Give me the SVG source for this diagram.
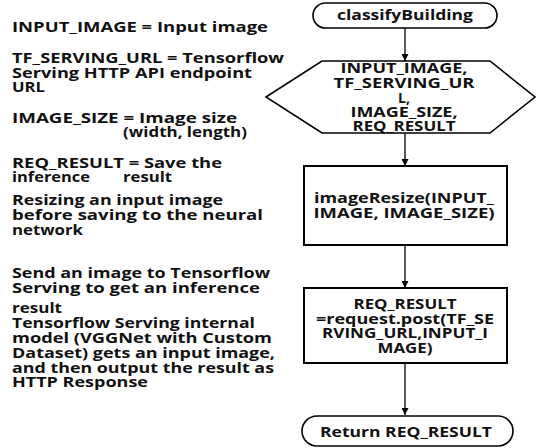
<svg xmlns="http://www.w3.org/2000/svg" width="536" height="448" viewBox="0 0 536 448">
<defs>
<style>
text{font-family:"Open Sans","Noto Sans","Liberation Sans",sans-serif;font-weight:bold;font-size:14px;fill:#111}
.c{text-anchor:middle}
.shape{fill:#fff;stroke:#000;stroke-width:1.6}
.box{fill:#fff;stroke:#000;stroke-width:2}
.edge{stroke:#000;stroke-width:1.3;fill:none;marker-end:url(#ah)}
</style>
<marker id="ah" viewBox="0 0 10 10" refX="10" refY="5" markerWidth="7" markerHeight="7" markerUnits="userSpaceOnUse" orient="auto">
<path d="M0,0 L10,5 L0,10 z" fill="#000"/>
</marker>
</defs>
<rect width="536" height="448" fill="#fff"/>

<g id="notes">
<text x="12" y="32" textLength="256" lengthAdjust="spacingAndGlyphs">INPUT_IMAGE = Input image</text>
<text x="12" y="63" textLength="272" lengthAdjust="spacingAndGlyphs">TF_SERVING_URL = Tensorflow</text>
<text x="12" y="78" textLength="240" lengthAdjust="spacingAndGlyphs">Serving HTTP API endpoint</text>
<text x="12" y="92" textLength="33" lengthAdjust="spacingAndGlyphs">URL</text>
<text x="12" y="123" textLength="225" lengthAdjust="spacingAndGlyphs">IMAGE_SIZE = Image size</text>
<text x="123" y="137" textLength="124" lengthAdjust="spacingAndGlyphs">(width, length)</text>
<text x="12" y="168" textLength="210" lengthAdjust="spacingAndGlyphs">REQ_RESULT  = Save the</text>
<text x="12" y="182" textLength="78" lengthAdjust="spacingAndGlyphs">inference</text>
<text x="123" y="182" textLength="49" lengthAdjust="spacingAndGlyphs">result</text>
<text x="12" y="205" textLength="211" lengthAdjust="spacingAndGlyphs">Resizing an input image</text>
<text x="12" y="220" textLength="251" lengthAdjust="spacingAndGlyphs">before saving to the neural</text>
<text x="12" y="235" textLength="71" lengthAdjust="spacingAndGlyphs">network</text>
<text x="12" y="278" textLength="258" lengthAdjust="spacingAndGlyphs">Send an image to Tensorflow</text>
<text x="12" y="293" textLength="248" lengthAdjust="spacingAndGlyphs">Serving to get an inference</text>
<text x="12" y="313" textLength="50" lengthAdjust="spacingAndGlyphs">result</text>
<text x="12" y="328" textLength="243" lengthAdjust="spacingAndGlyphs">Tensorflow Serving internal</text>
<text x="12" y="343" textLength="260" lengthAdjust="spacingAndGlyphs">model (VGGNet with Custom</text>
<text x="12" y="358" textLength="263" lengthAdjust="spacingAndGlyphs">Dataset) gets an input image,</text>
<text x="12" y="373" textLength="262" lengthAdjust="spacingAndGlyphs">and then output the result as</text>
<text x="12" y="387" textLength="136" lengthAdjust="spacingAndGlyphs">HTTP Response</text>
</g>

<g id="connectors">
<line class="edge" x1="405" y1="28" x2="405" y2="61"/>
<line class="edge" x1="405" y1="133" x2="405" y2="166"/>
<line class="edge" x1="405" y1="245" x2="405" y2="288"/>
<line class="edge" x1="405" y1="363" x2="405" y2="415"/>
</g>

<g id="start">
<rect class="shape" x="313" y="3" width="184" height="25" rx="12.5"/>
<text class="c" x="405" y="20" textLength="136" lengthAdjust="spacingAndGlyphs">classifyBuilding</text>
</g>

<g id="params">
<polygon class="shape" points="266,97 322,61 490,61 535,97 490,133 322,133"/>
<text class="c" x="404" y="73" textLength="127" lengthAdjust="spacingAndGlyphs">INPUT_IMAGE,</text>
<text class="c" x="404" y="88" textLength="141" lengthAdjust="spacingAndGlyphs">TF_SERVING_UR</text>
<text class="c" x="404" y="103">L,</text>
<text class="c" x="404" y="117" textLength="107" lengthAdjust="spacingAndGlyphs">IMAGE_SIZE,</text>
<text class="c" x="404" y="131" textLength="103" lengthAdjust="spacingAndGlyphs">REQ_RESULT</text>
</g>

<g id="resize">
<rect class="box" x="304" y="166" width="203" height="79"/>
<text class="c" x="404" y="203" textLength="180" lengthAdjust="spacingAndGlyphs">imageResize(INPUT_</text>
<text class="c" x="404" y="218" textLength="181" lengthAdjust="spacingAndGlyphs">IMAGE, IMAGE_SIZE)</text>
</g>

<g id="request">
<rect class="box" x="304" y="288" width="203" height="75"/>
<text class="c" x="405" y="309" textLength="103" lengthAdjust="spacingAndGlyphs">REQ_RESULT</text>
<text class="c" x="405" y="324" textLength="178" lengthAdjust="spacingAndGlyphs">=request.post(TF_SE</text>
<text class="c" x="405" y="338" textLength="166" lengthAdjust="spacingAndGlyphs">RVING_URL,INPUT_I</text>
<text class="c" x="405" y="353" textLength="55" lengthAdjust="spacingAndGlyphs">MAGE)</text>
</g>

<g id="end">
<rect class="shape" x="302" y="416" width="211" height="30" rx="15"/>
<text class="c" x="406" y="437" textLength="172" lengthAdjust="spacingAndGlyphs">Return REQ_RESULT</text>
</g>
</svg>
